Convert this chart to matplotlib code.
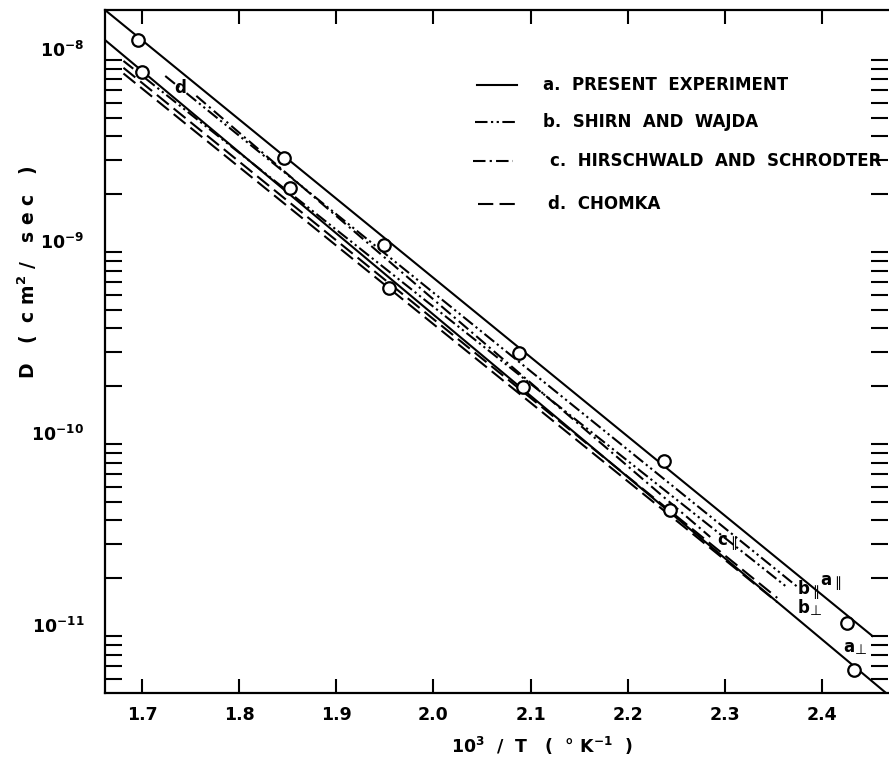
import matplotlib.pyplot as plt
import numpy as np
from matplotlib.lines import Line2D
from matplotlib.ticker import LogLocator, NullFormatter
from matplotlib.transforms import ScaledTranslation

plt.rcParams['font.family'] = ['DejaVu Sans']
plt.rcParams['font.weight'] = 'bold'
plt.rcParams['mathtext.default'] = 'bf'
plt.rcParams['lines.scale_dashes'] = False

# measured points (open circles), 10^3/T and D in cm^2/sec
x_par = [1.696, 1.846, 1.949, 2.088, 2.237, 2.426]
D_par = [1.27e-8, 3.09e-9, 1.09e-9, 2.98e-10, 8.15e-11, 1.17e-11]
x_perp = [1.700, 1.852, 1.954, 2.092, 2.244, 2.433]
D_perp = [8.66e-9, 2.16e-9, 6.49e-10, 1.98e-10, 4.53e-11, 6.65e-12]

# straight lines (end points)
a_par_x, a_par_D = [1.662, 2.452], [1.82e-8, 1.0e-11]
a_perp_x, a_perp_D = [1.662, 2.465], [1.27e-8, 5.1e-12]
b_par_x, b_par_D = [1.724, 2.375], [8.25e-9, 1.80e-11]
b_perp_x, b_perp_D = [1.681, 2.365], [9.88e-9, 1.78e-11]
c_par_x, c_par_D = [1.756, 2.285], [6.5e-9, 3.28e-11]
d1_x, d1_D = [1.681, 2.354], [9.1e-9, 1.58e-11]
d2_x, d2_D = [1.681, 2.354], [8.5e-9, 1.50e-11]

xticks = [1.7, 1.8, 1.9, 2.0, 2.1, 2.2, 2.3, 2.4]
xticklabels = ['1.7', '1.8', '1.9', '2.0', '2.1', '2.2', '2.3', '2.4']
yticks = [1e-11, 1e-10, 1e-9, 1e-8]
yticklabels = [r'$10^{-11}$', r'$10^{-10}$', r'$10^{-9}$', r'$10^{-8}$']

legend_labels = ['a.  PRESENT  EXPERIMENT', 'b.  SHIRN  AND  WAJDA',
                 'c.  HIRSCHWALD  AND  SCHRODTER', 'd.  CHOMKA']

solid = '-'
dashdotdot = (0, (9, 2.5, 1.6, 2.5, 1.6, 2.5))
dashdot = (0, (9, 3, 1.6, 3))
longdash = (0, (11, 4.5))
lw = 1.5

W, H = 889, 761
fig = plt.figure(figsize=(W / 100, H / 100), dpi=100)
ax = fig.add_axes([105 / W, 1 - 693 / H, (888 - 105) / W, (693 - 10) / H])
ax.set_yscale('log')
ax.set_xlim(1.662, 2.468)
ax.set_ylim(5.05e-12, 1.82e-8)

ax.plot(a_par_x, a_par_D, color='black', lw=lw, ls=solid)
ax.plot(a_perp_x, a_perp_D, color='black', lw=lw, ls=solid)
ax.plot(b_par_x, b_par_D, color='black', lw=lw, ls=dashdotdot)
ax.plot(b_perp_x, b_perp_D, color='black', lw=lw, ls=dashdotdot)
ax.plot(c_par_x, c_par_D, color='black', lw=lw, ls=dashdot)
ax.plot(d1_x, d1_D, color='black', lw=lw, ls=longdash)
ax.plot(d2_x, d2_D, color='black', lw=lw, ls=longdash)

ax.plot(x_par, D_par, 'o', ms=9, mfc='white', mec='black', mew=1.6)
ax.plot(x_perp, D_perp, 'o', ms=9, mfc='white', mec='black', mew=1.6)

for s in ['left', 'bottom', 'top']:
    ax.spines[s].set_linewidth(1.6)
ax.spines['right'].set_visible(False)

ax.set_xticks(xticks)
ax.set_xticklabels(xticklabels)
ax.tick_params(axis='x', which='major', direction='in', length=10, width=1.5,
               top=True, bottom=True, pad=9, labelsize=12.5)
ax.tick_params(axis='x', which='minor', top=False, bottom=False)

ax.set_yticks(yticks)
ax.set_yticklabels(yticklabels)
ax.yaxis.set_minor_locator(LogLocator(base=10, subs=np.arange(2, 10)))
ax.yaxis.set_minor_formatter(NullFormatter())
ax.tick_params(axis='y', which='both', direction='in', length=12, width=1.5,
               left=True, right=True, pad=15, labelsize=12.5)
up = ScaledTranslation(0, 0.11, fig.dpi_scale_trans)
for lab in ax.get_yticklabels():
    lab.set_transform(lab.get_transform() + up)

# legend, drawn by hand in figure pixels
leg_y = [85, 122, 161, 204]
leg_styles = [solid, dashdotdot, dashdot, longdash]
leg_x0 = [477, 475, 473, 478]
leg_tx = [543, 543, 550, 548]
for y, st, x0, tx, lab in zip(leg_y, leg_styles, leg_x0, leg_tx, legend_labels):
    fig.add_artist(Line2D([x0 / W, (x0 + 40) / W], [1 - y / H, 1 - y / H],
                          transform=fig.transFigure, color='black', lw=lw, ls=st))
    fig.text(tx / W, 1 - y / H, lab, fontsize=12, va='center', ha='left')

# curve tags: letter plus a small parallel / perpendicular sign
tags = [('d', '', 180, 88), ('c', '∥', 722, 540), ('a', '∥', 826, 580),
        ('b', '∥', 804, 589), ('b', '⊥', 804, 608), ('a', '⊥', 849, 647)]
for t, sub, px, py in tags:
    fig.text(px / W, 1 - py / H, t, fontsize=12, ha='center', va='center')
    if sub:
        fig.text((px + 12) / W, 1 - (py + 3) / H, sub, fontsize=10,
                 fontweight='normal', ha='center', va='center')

fig.text(542 / W, 1 - 746 / H, r'10$^{3}$  /  T   (  ° K$^{-1}$  )',
         fontsize=12.5, ha='center', va='center')
fig.text(28 / W, 1 - 272 / H, r'D   (  c m$^{2}$ /   s e c   )', rotation=90,
         fontsize=13.5, ha='center', va='center')

fig.savefig('out.png', dpi=100)
